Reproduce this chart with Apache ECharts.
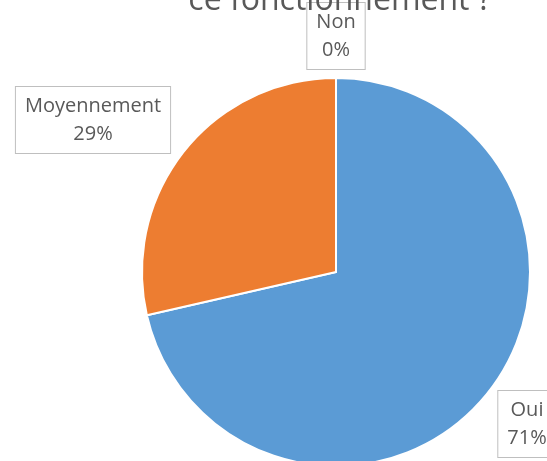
<!DOCTYPE html>
<html>
<head>
<meta charset="utf-8">
<script src="https://cdn.jsdelivr.net/npm/echarts@6/dist/echarts.min.js"></script>
<style>html,body{margin:0;padding:0;background:#fff;}#c{width:547px;height:461px;}</style>
</head>
<body>
<div id="c"></div>
<script>
var titleText = "ce fonctionnement ?";
var categories = ["Oui", "Moyennement", "Non"];
var values = [5, 2, 0];
var colors = ["#5B9BD5", "#ED7D31", "#A5A5A5"];

var labelPos = {
  "Oui": [527, 424],
  "Moyennement": [93, 120],
  "Non": [336, 36]
};

var chart = echarts.init(document.getElementById('c'), null, {renderer: 'canvas'});
chart.setOption({
  animation: false,
  backgroundColor: '#fff',
  title: {
    text: titleText,
    left: 335,
    textAlign: 'center',
    top: -20,
    textStyle: {fontFamily: 'Open Sans', fontSize: 32, fontWeight: 'normal', color: '#595959'}
  },
  series: [{
    type: 'pie',
    center: [336, 272],
    radius: 194,
    startAngle: 90,
    clockwise: true,
    minAngle: 0,
    stillShowZeroSum: true,
    avoidLabelOverlap: false,
    itemStyle: {borderColor: '#fff', borderWidth: 2},
    label: {
      show: true,
      formatter: function (p) { return p.name + '\n' + Math.round(p.percent) + '%'; },
      fontFamily: 'Open Sans',
      fontSize: 20,
      lineHeight: 28,
      color: '#595959',
      backgroundColor: '#fff',
      borderColor: '#bfbfbf',
      borderWidth: 1,
      padding: [5, 9, 5, 9],
      align: 'center'
    },
    labelLine: {show: false},
    labelLayout: function (params) {
      var name = categories[params.dataIndex];
      var p = labelPos[name];
      return {x: p[0], y: p[1], align: 'center', verticalAlign: 'middle'};
    },
    data: categories.map(function (c, i) {
      return {name: c, value: values[i], itemStyle: {color: colors[i]}};
    })
  }]
});
</script>
</body>
</html>
